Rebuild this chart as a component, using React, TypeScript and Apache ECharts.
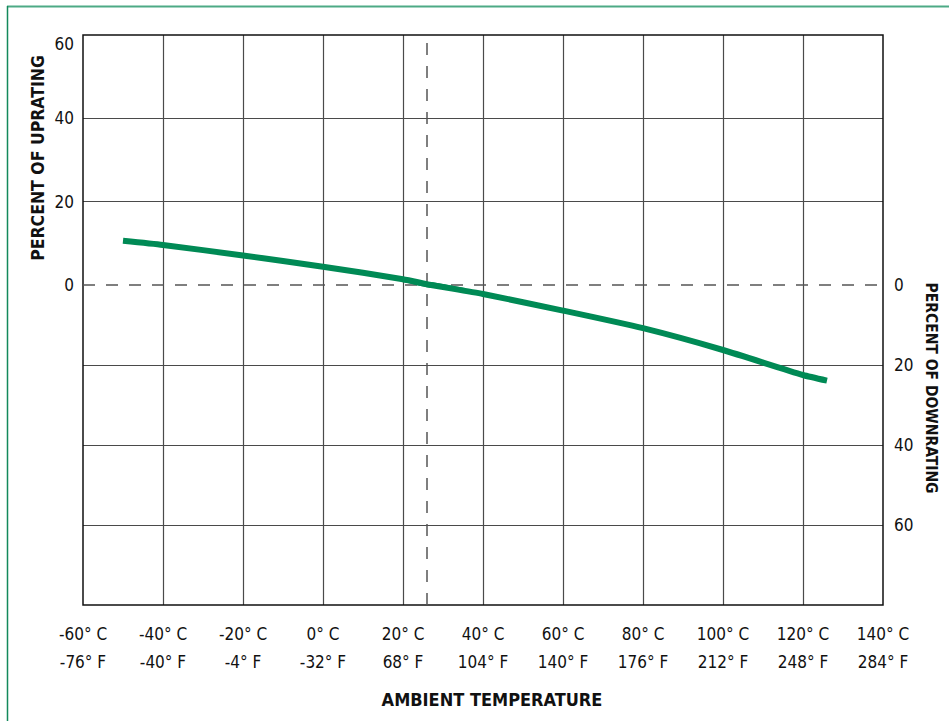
import React, { useEffect, useRef } from "react";
import * as echarts from "echarts";

// Temperature axis (°C) and its tick labels
const xMin = -60;
const xMax = 140;
const xStep = 20;
const celsiusLabels = ["-60° C", "-40° C", "-20° C", "0° C", "20° C", "40° C", "60° C", "80° C", "100° C", "120° C", "140° C"];
const fahrenheitLabels = ["-76° F", "-40° F", "-4° F", "-32° F", "68° F", "104° F", "140° F", "176° F", "212° F", "248° F", "284° F"];

// Uprating part of the curve (percent of uprating)
const upTemps = [-50, -40, -20, 0, 20, 27, 40];
const upValues = [10.6, 9.6, 7.1, 4.4, 1.4, 0, -2.2];

// Downrating part of the curve (percent of downrating)
const downTemps = [20, 27, 40, 60, 80, 100, 120, 126];
const downValues = [-1.4, 0, 2.25, 6.4, 10.8, 16.25, 22.5, 23.9];

// Reference ambient temperature (dashed vertical line)
const refTemp = 26;

const FONT = '"Liberation Sans Narrow", "DejaVu Sans Condensed", "Arial Narrow", sans-serif';
const GREEN = "#008a55";
const GRIDC = "#4a4a4a";
const DASHC = "#555555";

export default function App() {
  const ref = useRef<HTMLDivElement>(null);
  useEffect(() => {
    if (!ref.current) return;
    const chart = echarts.init(ref.current, undefined, { renderer: "svg" });
    const splitLine = {
      show: true,
      showMinLine: false,
      showMaxLine: false,
      lineStyle: { color: GRIDC, width: 1.2 },
    };
    const dashStyle = { type: [12, 11] as any, color: DASHC, width: 1.5 };
    const option: any = {
      animation: false,
      backgroundColor: "#ffffff",
      textStyle: { fontFamily: FONT },
      grid: [
        { left: 83, top: 35, width: 800, height: 250, show: false },
        { left: 83, top: 285, width: 800, height: 320, show: false },
        { left: 83, top: 35, width: 800, height: 570, show: true, borderColor: "#111", borderWidth: 1.5, backgroundColor: "transparent", z: 1 },
      ],
      xAxis: [
        {
          gridIndex: 0, type: "value", min: xMin, max: xMax, interval: xStep, position: "top",
          axisLine: { show: false }, axisTick: { show: false }, axisLabel: { show: false }, splitLine,
        },
        {
          gridIndex: 1, type: "value", min: xMin, max: xMax, interval: xStep, position: "bottom",
          axisLine: { show: false }, axisTick: { show: false }, splitLine,
          axisLabel: {
            margin: 15, fontSize: 17, lineHeight: 28, color: "#111", fontFamily: FONT,
            formatter: (v: number) => {
              const i = Math.round((v - xMin) / xStep);
              return `${celsiusLabels[i]}\n${fahrenheitLabels[i]}`;
            },
          },
        },
        { gridIndex: 2, type: "value", min: 0, max: 1, show: false },
      ],
      yAxis: [
        {
          gridIndex: 0, type: "value", min: 0, max: 60, interval: 20, position: "left",
          axisLine: { show: false }, axisTick: { show: false }, splitLine,
          axisLabel: {
            margin: 9, fontSize: 17, color: "#111", fontFamily: FONT,
            formatter: (v: number) => (v === 60 ? "{t|60}" : String(v)),
            rich: { t: { padding: [18, 0, 0, 0], fontSize: 17, fontFamily: FONT, color: "#111" } },
          },
        },
        {
          gridIndex: 1, type: "value", min: -80, max: 0, interval: 20, position: "right",
          axisLine: { show: false }, axisTick: { show: false }, splitLine,
          axisLabel: {
            margin: 11, fontSize: 17, color: "#111", fontFamily: FONT,
            formatter: (v: number) => (v === -80 ? "" : String(Math.abs(v))),
          },
        },
        { gridIndex: 2, type: "value", min: 0, max: 1, show: false },
      ],
      series: [
        {
          type: "line", xAxisIndex: 0, yAxisIndex: 0, z: 3,
          data: upTemps.map((t, i) => [t, upValues[i]]),
          symbol: "none", smooth: 0.2, clip: true,
          lineStyle: { color: GREEN, width: 6, cap: "butt" },
          markLine: {
            silent: true, symbol: ["none", "none"], z: 1, label: { show: false },
            lineStyle: dashStyle, data: [{ xAxis: refTemp }],
          },
        },
        {
          type: "line", xAxisIndex: 1, yAxisIndex: 1, z: 3,
          data: downTemps.map((t, i) => [t, -downValues[i]]),
          symbol: "none", smooth: 0.2, clip: true,
          lineStyle: { color: GREEN, width: 6, cap: "butt" },
          markLine: {
            silent: true, symbol: ["none", "none"], z: 1, label: { show: false },
            lineStyle: dashStyle, data: [{ xAxis: refTemp }, { yAxis: 0 }],
          },
        },
      ],
      graphic: [
        { type: "line", shape: { x1: 7, y1: 6.5, x2: 949, y2: 6.5 }, style: { stroke: "#4daa85", lineWidth: 2 } },
        { type: "line", shape: { x1: 7.5, y1: 6, x2: 7.5, y2: 721 }, style: { stroke: "#13895b", lineWidth: 1.5 } },
        {
          type: "text", x: 38, y: 158, rotation: Math.PI / 2,
          style: { text: "PERCENT OF UPRATING", fill: "#111", font: `bold 17.5px ${FONT}`, align: "center", verticalAlign: "middle" },
        },
        {
          type: "text", x: 931, y: 388, rotation: -Math.PI / 2,
          style: { text: "PERCENT OF DOWNRATING", fill: "#111", font: `bold 15.5px ${FONT}`, align: "center", verticalAlign: "middle" },
        },
        {
          type: "text", x: 492, y: 699,
          style: { text: "AMBIENT TEMPERATURE", fill: "#111", font: `bold 18px ${FONT}`, align: "center", verticalAlign: "middle" },
        },
      ],
    };
    chart.setOption(option);
    return () => chart.dispose();
  }, []);
  return <div ref={ref} style={{ position: "fixed", left: 0, top: 0, width: 949, height: 721 }} />;
}
